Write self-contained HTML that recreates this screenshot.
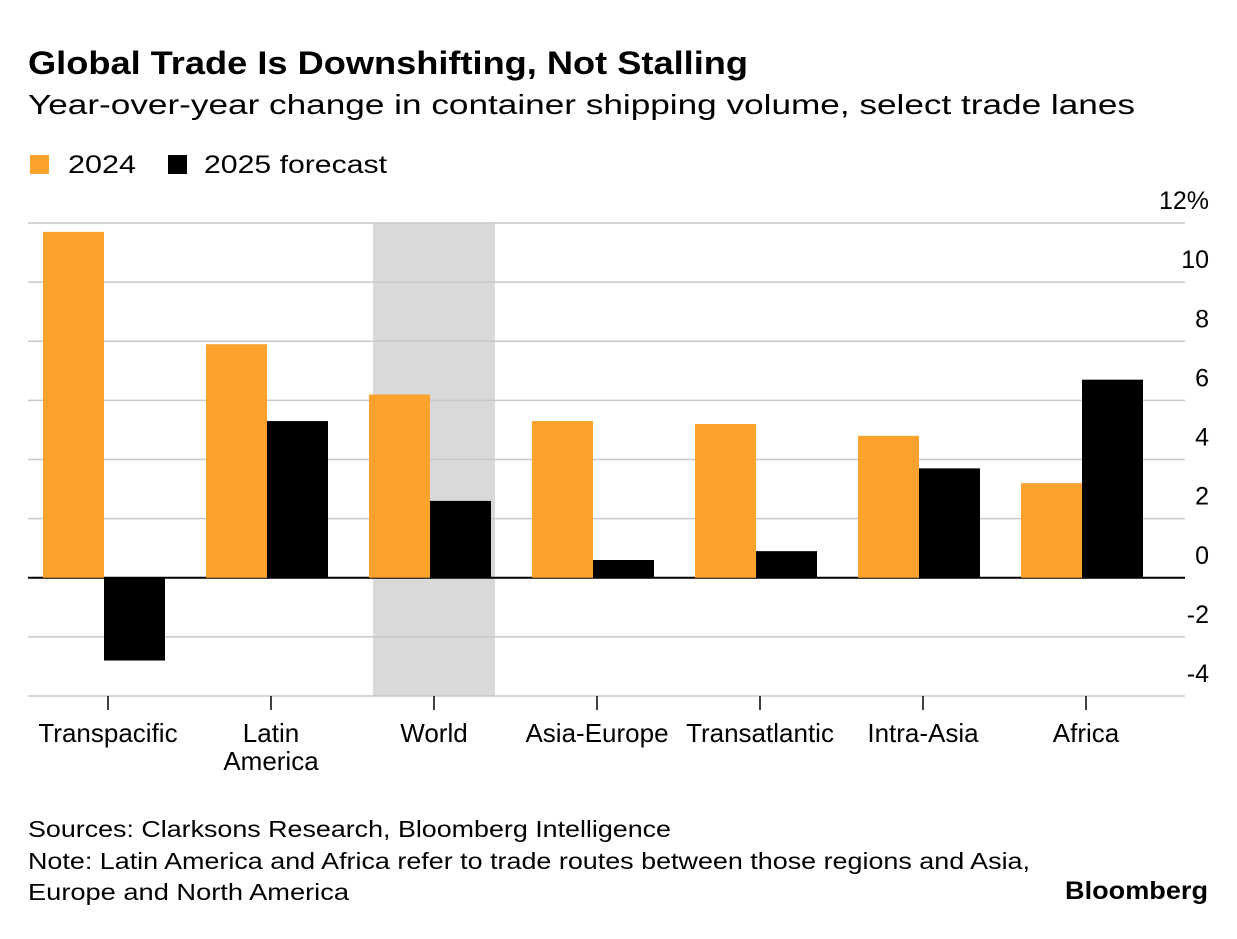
<!DOCTYPE html>
<html><head><meta charset="utf-8"><style>
body{margin:0;background:#fff;font-family:"Liberation Sans",sans-serif;}
svg text{font-family:"Liberation Sans",sans-serif;}
</style></head><body>
<svg width="1237" height="934" viewBox="0 0 1237 934">
<text x="28" y="74" font-size="32" font-weight="bold" fill="#000" textLength="720" lengthAdjust="spacingAndGlyphs">Global Trade Is Downshifting, Not Stalling</text>
<text x="28" y="114" font-size="28" fill="#000" textLength="1107" lengthAdjust="spacingAndGlyphs">Year-over-year change in container shipping volume, select trade lanes</text>
<g>
<rect x="30" y="155" width="19" height="19" fill="#fca22d"/>
<text x="68" y="173" font-size="25" textLength="68" lengthAdjust="spacingAndGlyphs">2024</text>
<rect x="168" y="155" width="19" height="19" fill="#000"/>
<text x="204" y="173" font-size="25" textLength="183" lengthAdjust="spacingAndGlyphs">2025 forecast</text>
</g>
<g id="plot"></g>
<text x="28" y="837" font-size="23" textLength="643" lengthAdjust="spacingAndGlyphs">Sources: Clarksons Research, Bloomberg Intelligence</text>
<text x="28" y="869" font-size="23" textLength="1002" lengthAdjust="spacingAndGlyphs">Note: Latin America and Africa refer to trade routes between those regions and Asia,</text>
<text x="28" y="900" font-size="23" textLength="321" lengthAdjust="spacingAndGlyphs">Europe and North America</text>
<text x="1208" y="899" font-size="25" font-weight="bold" text-anchor="end" textLength="143" lengthAdjust="spacingAndGlyphs">Bloomberg</text>
</svg>
<script>
const categories=["Transpacific","Latin America","World","Asia-Europe","Transatlantic","Intra-Asia","Africa"];
const values2024=[11.7,7.9,6.2,5.3,5.2,4.8,3.2];
const values2025=[-2.8,5.3,2.6,0.6,0.9,3.7,6.7];
const yTicks=[12,10,8,6,4,2,0,-2,-4];
const yTickLabels=["12%","10","8","6","4","2","0","-2","-4"];
const NS="http://www.w3.org/2000/svg";
const g=document.getElementById('plot');
const x0=28,x1=1185,yMax=12,yMin=-4,yTop=223,yBot=696;
const y=v=>yTop+(yMax-v)/(yMax-yMin)*(yBot-yTop);
const firstC=108,gw=163;
const cx=i=>firstC+gw*i;
const bw=61,barShift=-4;
function el(t,a){const e=document.createElementNS(NS,t);for(const k in a)e.setAttribute(k,a[k]);g.appendChild(e);return e;}
const wi=categories.indexOf("World");
const hl=el('rect',{x:cx(wi)-bw,y:yTop,width:bw*2,height:yBot-yTop,fill:'#d9d9d9'});


yTicks.forEach((t,i)=>{
 const l=el('line',{x1:x0,x2:x1,y1:y(t),y2:y(t),stroke:t===0?'#000':'#c8c8c8','stroke-width':t===0?2:1.5});
 
 
 const tx=el('text',{x:1209,y:y(t)-14,'font-size':25,'text-anchor':'end'});
 tx.textContent=yTickLabels[i];
 
 
});
categories.forEach((c,i)=>{
 const m=cx(i);
 [[values2024[i],'#fca22d',m+barShift-bw,'bar-2024'],[values2025[i],'#000',m+barShift,'bar-2025']].forEach(([v,col,bx,n])=>{
  const r=el('rect',{x:bx,y:Math.min(y(v),y(0)),width:bw,height:Math.abs(y(v)-y(0)),fill:col});
  
  
 });
 const tk=el('line',{x1:m,x2:m,y1:yBot,y2:yBot+14,stroke:'#000','stroke-width':1.5});
 
 
 const parts=c==="Latin America"?["Latin","America"]:[c];
 parts.forEach((p,j)=>{
  const t=el('text',{x:m,y:742+j*28,'font-size':26,'text-anchor':'middle'});
  t.textContent=p;
  
  
 });
});
</script>
</body></html>
